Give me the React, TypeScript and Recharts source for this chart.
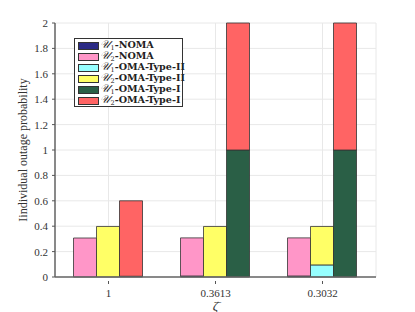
import React from "react";
import { BarChart, Bar, XAxis, YAxis, CartesianGrid } from "recharts";

const categories = ["1", "0.3613", "0.3032"];
const u1Noma = [0.0, 0.008, 0.008];
const u2Noma = [0.307, 0.3, 0.3];
const u1OmaII = [0.0, 0.0, 0.095];
const u2OmaII = [0.398, 0.398, 0.303];
const u1OmaI = [0.006, 1, 1];
const u2OmaI = [0.594, 1, 1];
const yTicks = [0, 0.2, 0.4, 0.6, 0.8, 1, 1.2, 1.4, 1.6, 1.8, 2];

const data = categories.map((c, i) => ({
  cat: c,
  u1Noma: u1Noma[i],
  u2Noma: u2Noma[i],
  u1OmaII: u1OmaII[i],
  u2OmaII: u2OmaII[i],
  u1OmaI: u1OmaI[i],
  u2OmaI: u2OmaI[i],
}));

const series = [
  { key: "u1Noma", stack: "a", color: "#2b2a85", user: "1", name: "NOMA" },
  { key: "u2Noma", stack: "a", color: "#ff96c8", user: "2", name: "NOMA" },
  { key: "u1OmaII", stack: "b", color: "#96ffff", user: "1", name: "OMA-Type-II" },
  { key: "u2OmaII", stack: "b", color: "#ffff66", user: "2", name: "OMA-Type-II" },
  { key: "u1OmaI", stack: "c", color: "#2a5f46", user: "1", name: "OMA-Type-I" },
  { key: "u2OmaI", stack: "c", color: "#ff6464", user: "2", name: "OMA-Type-I" },
];

const FONT = "'Liberation Serif', 'DejaVu Serif', serif";
const LFONT = "'DejaVu Serif', serif";

const YTick = (props: any) => {
  const { x, y, payload } = props;
  return (
    <g>
      <line x1={x + 5} x2={x + 8} y1={y} y2={y} stroke="#555" strokeWidth={1} />
      <text x={x + 1} y={y} dy={4} textAnchor="end" fontFamily={FONT} fontSize={11} fill="#333">
        {String(payload.value)}
      </text>
    </g>
  );
};

const XTick = (props: any) => {
  const { x, y, payload } = props;
  return (
    <g>
      <line x1={x} x2={x} y1={y - 1} y2={y - 4} stroke="#555" strokeWidth={1} />
      <text x={x} y={y + 12} textAnchor="middle" fontFamily={FONT} fontSize={11} fill="#333">
        {payload.value}
      </text>
    </g>
  );
};

const LegendBox = () => (
  <div
    style={{
      position: "absolute",
      left: 74,
      top: 38,
      width: 109,
      height: 69,
      boxSizing: "border-box",
      border: "1px solid #333",
      background: "#fff",
      padding: "1px 0 0 3px",
      fontFamily: LFONT,
      fontWeight: "bold",
      fontSize: 9.6,
      color: "#222",
    }}
  >
    {series.map((s) => (
      <div key={s.key} style={{ display: "flex", alignItems: "center", height: 11, lineHeight: "11px" }}>
        <div
          style={{
            width: 21,
            height: 8,
            background: s.color,
            border: "1px solid #333",
            boxSizing: "border-box",
            marginRight: 1,
            flexShrink: 0,
          }}
        />
        <span style={{ whiteSpace: "nowrap" }}>
          <span style={{ fontStyle: "italic", fontWeight: "normal", fontFamily: FONT, fontSize: 11 }}>𝒰</span>
          <span style={{ fontSize: 6.5, fontWeight: "normal", position: "relative", top: 2, marginLeft: 0.5 }}>{s.user}</span>-{s.name}
        </span>
      </div>
    ))}
  </div>
);

export default function App() {
  return (
    <div style={{ position: "absolute", left: 0, top: 0, width: 415, height: 312, background: "#fff" }}>
      <BarChart
        width={415}
        height={312}
        data={data}
        margin={{ top: 23, right: 39, left: 15, bottom: 0 }}
        barCategoryGap="17.3%"
        barGap={0}
      >
        <CartesianGrid stroke="#e8e8e8" strokeWidth={1} />
        <XAxis
          dataKey="cat"
          height={35}
          tick={<XTick />}
          tickLine={false}
          axisLine={{ stroke: "#666", strokeWidth: 1.5 }}
          label={{ value: "ζ̄", position: "insideBottom", offset: 2, fontFamily: FONT, fontSize: 13, fill: "#333", fontStyle: "italic" }}
        />
        <YAxis
          width={40}
          domain={[0, 2]}
          ticks={yTicks}
          interval={0}
          tick={<YTick />}
          tickLine={false}
          axisLine={{ stroke: "#666", strokeWidth: 1.5 }}
          label={{
            value: "Iindividual outage probability",
            angle: -90,
            position: "insideLeft",
            offset: 8,
            style: { textAnchor: "middle" },
            fontFamily: FONT,
            fontSize: 12,
            fill: "#333",
          }}
        />
        {series.map((s) => (
          <Bar
            key={s.key}
            dataKey={s.key}
            stackId={s.stack}
            fill={s.color}
            stroke="#333"
            strokeWidth={0.8}
            isAnimationActive={false}
          />
        ))}
      </BarChart>
      <LegendBox />
    </div>
  );
}
